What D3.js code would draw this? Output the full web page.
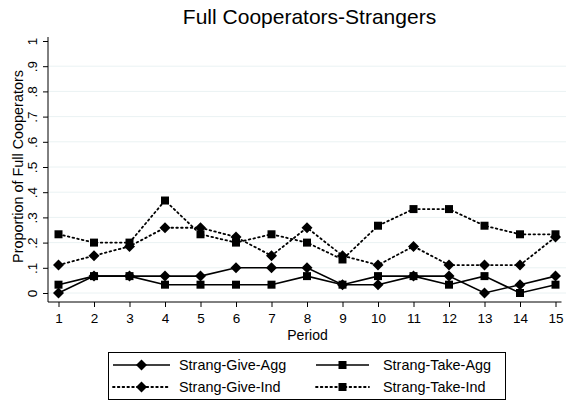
<!DOCTYPE html>
<html><head><meta charset="utf-8">
<script src="https://cdn.jsdelivr.net/npm/d3@7"></script>
<style>body{margin:0;background:#fff}svg{display:block;font-family:"Liberation Sans",Arial,sans-serif}</style>
</head><body><svg id="c" width="566" height="406"></svg>
<script>
const periods = [1,2,3,4,5,6,7,8,9,10,11,12,13,14,15];
const giveAgg = [0,.067,.067,.067,.067,.1,.1,.1,.033,.033,.067,.067,0,.033,.067];
const takeAgg = [.033,.067,.067,.033,.033,.033,.033,.067,.033,.067,.067,.033,.067,0,.033];
const giveInd = [.111,.148,.185,.259,.259,.222,.148,.259,.148,.111,.185,.111,.111,.111,.222];
const takeInd = [.233,.2,.2,.367,.233,.2,.233,.2,.133,.267,.333,.333,.267,.233,.233];
const yTicks = [0,.1,.2,.3,.4,.5,.6,.7,.8,.9,1];
const yTickLabels = ["0",".1",".2",".3",".4",".5",".6",".7",".8",".9","1"];
const seriesNames = ["Strang-Give-Agg","Strang-Take-Agg","Strang-Give-Ind","Strang-Take-Ind"];

const series = [
  {name:seriesNames[0], values:giveAgg, marker:"diamond", dotted:false},
  {name:seriesNames[1], values:takeAgg, marker:"square", dotted:false},
  {name:seriesNames[2], values:giveInd, marker:"diamond", dotted:true},
  {name:seriesNames[3], values:takeInd, marker:"square", dotted:true}
];

const svg = d3.select("#c");
const x = d3.scaleLinear().domain([1,15]).range([58.5,555.5]);
const y = d3.scaleLinear().domain([0,1]).range([293,41]);
const axisX = 48, axisY = 302;

// gridlines
svg.append("g").selectAll("line").data(yTicks.filter(d=>d<1)).join("line")
  .attr("x1",axisX).attr("x2",566).attr("y1",d=>y(d)).attr("y2",d=>y(d))
  .attr("stroke","#eaf2f3").attr("stroke-width",1);

// y axis
const ya = svg.append("g").attr("transform",`translate(${axisX},0)`)
  .call(d3.axisLeft(y).tickValues(yTicks).tickSize(5).tickFormat((d,i)=>yTickLabels[i]));
ya.select(".domain").attr("d",`M0,${y(1)-4}V${axisY}`).attr("stroke","#000");
ya.selectAll(".tick line").attr("stroke","#000");
ya.selectAll(".tick text").attr("font-size",13.5).attr("fill","#000")
  .attr("x",0).attr("dy",0).attr("text-anchor","middle")
  .attr("transform","translate(-11,0) rotate(-90)");

// x axis
const xa = svg.append("g").attr("transform",`translate(0,${axisY})`)
  .call(d3.axisBottom(x).tickValues(periods).tickSize(5).tickFormat(d3.format("d")));
xa.select(".domain").attr("d",`M${axisX},0H${x(15)+6}`).attr("stroke","#000");
xa.selectAll(".tick line").attr("stroke","#000");
xa.selectAll(".tick text").attr("font-size",13.5).attr("fill","#000").attr("y",11);

// titles
svg.append("text").attr("x",309.5).attr("y",24).attr("text-anchor","middle")
  .attr("font-size",21).text("Full Cooperators-Strangers");
svg.append("text").attr("x",307.5).attr("y",339.5).attr("text-anchor","middle")
  .attr("font-size",14).text("Period");
svg.append("text").attr("transform","translate(23,166.5) rotate(-90)").attr("text-anchor","middle")
  .attr("font-size",14.4).text("Proportion of Full Cooperators");

const diamondPath = "M0,-5.5L5.5,0L0,5.5L-5.5,0Z";
const squarePath = "M-4,-4H4V4H-4Z";
const mk = m => m==="diamond"?diamondPath:squarePath;

const line = d3.line().x((d,i)=>x(periods[i])).y(d=>y(d));
series.forEach(s=>{
  const g = svg.append("g");
  g.append("path").attr("d",line(s.values)).attr("fill","none").attr("stroke","#000")
    .attr("stroke-width",s.dotted?1.8:1.6).attr("stroke-dasharray",s.dotted?"1.6,3.2":null)
    .attr("stroke-linecap",s.dotted?"round":"butt");
  g.selectAll("path.m").data(s.values).join("path").attr("class","m")
    .attr("d",mk(s.marker)).attr("fill","#000")
    .attr("transform",(d,i)=>`translate(${x(periods[i])},${y(d)})`);
});

// legend
const lg = svg.append("g");
lg.append("rect").attr("x",108.5).attr("y",352.5).attr("width",397).attr("height",47)
  .attr("fill","#fff").attr("stroke","#000").attr("stroke-width",1);
const cols = [{x1:113,x2:170,tx:179},{x1:316,x2:369,tx:383}];
const rows = [365,387];
series.forEach((s,i)=>{
  const c = cols[i%2], r = rows[Math.floor(i/2)];
  lg.append("line").attr("x1",c.x1).attr("x2",c.x2).attr("y1",r).attr("y2",r)
    .attr("stroke","#000").attr("stroke-width",s.dotted?1.8:1.6)
    .attr("stroke-dasharray",s.dotted?"1.6,3.2":null).attr("stroke-linecap",s.dotted?"round":"butt");
  lg.append("path").attr("d",mk(s.marker)).attr("fill","#000")
    .attr("transform",`translate(${(c.x1+c.x2)/2},${r})`);
  lg.append("text").attr("x",c.tx).attr("y",r+5).attr("font-size",14.4).text(s.name);
});
</script></body></html>
